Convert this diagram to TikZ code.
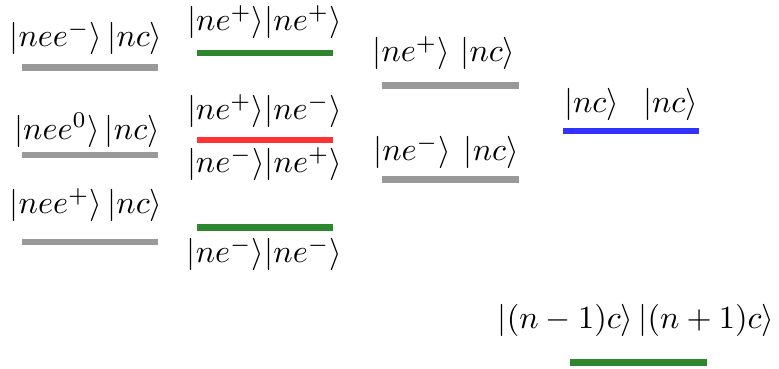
\documentclass[tikz,border=0pt]{standalone}
\usepackage{xcolor}
\usepackage{tikz}
\definecolor{levgray}{HTML}{999999}
\definecolor{levgreen}{HTML}{2E862E}
\definecolor{levred}{HTML}{FF3333}
\definecolor{levblue}{HTML}{3333FF}

\begin{document}
\begin{tikzpicture}[x=0.0109cm,y=-0.0109cm,
    level/.style={line width=1.9pt},
    ket/.style={inner sep=0pt}]
  \useasboundingbox (0,0) rectangle (779,368);

  % first column
  \draw[level,levgray] (22,67.5) -- (83,67.5);
  \draw[level,levgray] (83,67.5) -- (158,67.5);
  \draw[level,levgray] (22,155) -- (83,155);
  \draw[level,levgray] (83,155) -- (158,155);
  \draw[level,levgray] (22,242) -- (83,242);
  \draw[level,levgray] (83,242) -- (158,242);
  \node[ket] (neem) at (86,38) {$|nee^-\rangle\,|nc\rangle$};
  \node[ket] (nee0) at (87,130) {$|nee^0\rangle\,|nc\rangle$};
  \node[ket] (neep) at (86,205) {$|nee^+\rangle\,|nc\rangle$};

  % second column
  \draw[level,levgreen] (197,53) -- (257,53);
  \draw[level,levgreen] (257,53) -- (333,53);
  \draw[level,levred] (197,140) -- (257,140);
  \draw[level,levred] (257,140) -- (333,140);
  \draw[level,levgreen] (197,227.5) -- (257,227.5);
  \draw[level,levgreen] (257,227.5) -- (333,227.5);
  \node[ket] (pp) at (264.5,22) {$|ne^+\rangle|ne^+\rangle$};
  \node[ket] (pm) at (264.5,111) {$|ne^+\rangle|ne^-\rangle$};
  \node[ket] (mp) at (264.5,164) {$|ne^-\rangle|ne^+\rangle$};
  \node[ket] (mm) at (264.5,254) {$|ne^-\rangle|ne^-\rangle$};

  % third column
  \draw[level,levgray] (382,85.5) -- (443,85.5);
  \draw[level,levgray] (443,85.5) -- (519,85.5);
  \draw[level,levgray] (382,179.5) -- (443,179.5);
  \draw[level,levgray] (443,179.5) -- (519,179.5);
  \node[ket] (pnc) at (444,53) {$|ne^+\rangle\ |nc\rangle$};
  \node[ket] (mnc) at (446,152) {$|ne^-\rangle\hspace{4pt}|nc\rangle$};

  % ground level
  \draw[level,levblue] (563,131) -- (623,131);
  \draw[level,levblue] (623,131) -- (699,131);
  \node[ket] (ncnc) at (631,104) {$|nc\rangle\hspace{7.5pt}|nc\rangle$};

  % charge transfer
  \draw[level,levgreen] (570,362.5) -- (632,362.5);
  \draw[level,levgreen] (632,362.5) -- (707,362.5);
  \node[ket] (ct) at (636,320) {$|(n-1)c\rangle\,|(n+1)c\rangle$};
\end{tikzpicture}
\end{document}
